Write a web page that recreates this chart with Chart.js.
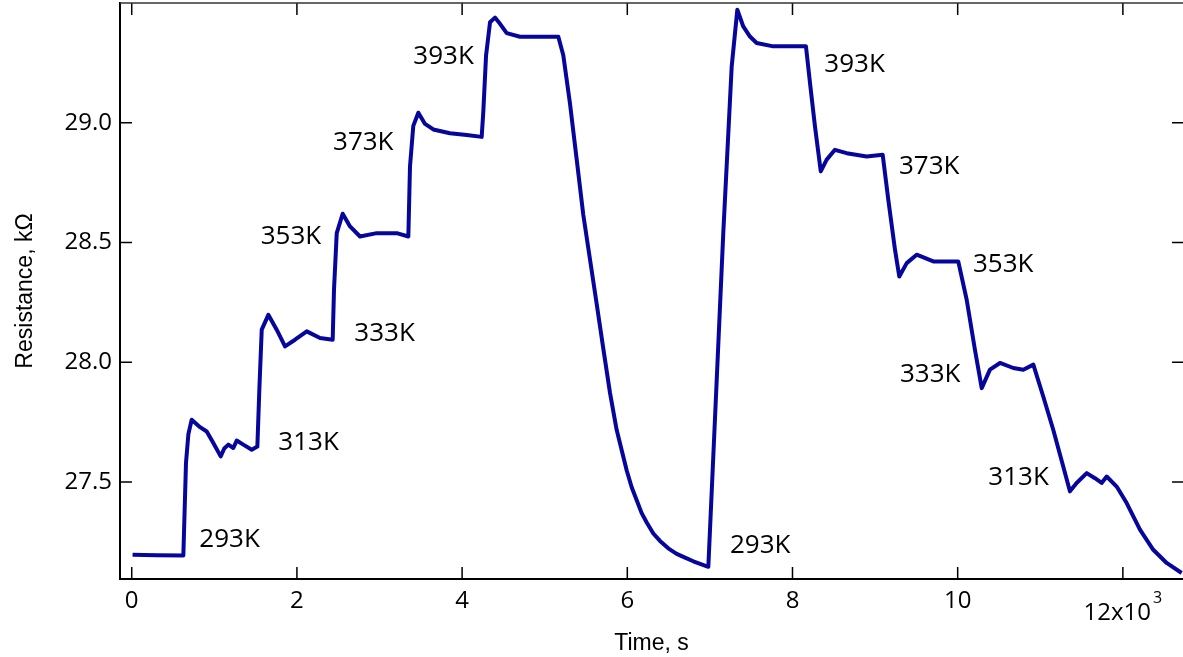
<!DOCTYPE html>
<html>
<head>
<meta charset="utf-8">
<title>Resistance vs time</title>
<script src="https://cdn.jsdelivr.net/npm/chart.js@4.4.1/dist/chart.umd.min.js"></script>
<style>
  html, body { margin: 0; padding: 0; background: #fff; }
  #wrap { width: 1183px; height: 657px; }
</style>
</head>
<body>
<div id="wrap"><canvas id="resistance-graph" width="1183" height="657"></canvas></div>
<script>
// trace: time in s, resistance in kOhm
const timeS = [
    10, 300, 625, 657, 686, 726, 827, 908, 988, 1077, 1120, 1170, 1230, 1271, 1351, 1453, 1521,
    1545, 1574, 1654, 1755, 1856, 1977, 2119, 2280, 2433,
    2449, 2482, 2554, 2643, 2764, 2966, 3208, 3349,
    3369, 3409, 3470, 3551, 3651, 3853, 4056, 4237,
    4257, 4290, 4338, 4398, 4459, 4540, 4701, 4943, 5165,
    5225, 5306, 5387, 5467, 5548, 5629, 5709, 5790, 5871, 5993, 6053, 6114, 6174, 6235, 6315, 6396, 6496, 6598, 6699, 6799, 6981,
    7061, 7162, 7264, 7332, 7404, 7485, 7566, 7767, 7970, 8163,
    8212, 8272, 8342, 8414, 8514, 8656, 8898, 9092,
    9160, 9241, 9293, 9383, 9503, 9705, 10007,
    10109, 10209, 10291, 10391, 10512, 10673, 10795, 10916,
    11036, 11157, 11278, 11359, 11440, 11562, 11662, 11743, 11804, 11925, 12046, 12207, 12368, 12530, 12712
];
const resistanceK = [
    27.196, 27.194, 27.193, 27.58, 27.70, 27.76, 27.729, 27.711, 27.663, 27.607, 27.64, 27.656, 27.642, 27.673, 27.656, 27.635, 27.648,
    27.885, 28.136, 28.198, 28.136, 28.066, 28.094, 28.129, 28.101, 28.094,
    28.303, 28.539, 28.620, 28.567, 28.525, 28.539, 28.539, 28.525,
    28.817, 28.987, 29.042, 28.995, 28.972, 28.956, 28.949, 28.941,
    29.049, 29.281, 29.420, 29.439, 29.413, 29.374, 29.359, 29.359, 29.359,
    29.282, 29.080, 28.848, 28.616, 28.430, 28.244, 28.058, 27.873, 27.718, 27.548, 27.478, 27.424, 27.370, 27.331, 27.285, 27.254, 27.223, 27.200, 27.184, 27.169, 27.146,
    27.760, 28.539, 29.235, 29.472, 29.402, 29.360, 29.333, 29.319, 29.319, 29.319,
    29.166, 28.985, 28.797, 28.846, 28.887, 28.873, 28.859, 28.866,
    28.678, 28.470, 28.358, 28.414, 28.449, 28.421, 28.421,
    28.261, 28.052, 27.892, 27.969, 27.997, 27.976, 27.969, 27.990,
    27.857, 27.718, 27.565, 27.461, 27.496, 27.537, 27.516, 27.496, 27.523, 27.481, 27.412, 27.301, 27.217, 27.162, 27.120
];

const xTicks = [0, 2000, 4000, 6000, 8000, 10000, 12000];
const xTickLabels = ['0', '2', '4', '6', '8', '10', '12x10^3'];
const yTicks = [27.5, 28.0, 28.5, 29.0];
const yTickLabels = ['27.5', '28.0', '28.5', '29.0'];

// temperature notes, anchored at (time, resistance) of their left edge
const tempLabels = ['293K', '313K', '333K', '353K', '373K', '393K', '293K', '393K', '373K', '353K', '333K', '313K'];
const tempLabelTime = [818, 1775, 2695, 1562, 2437, 3409, 7243, 8385, 9289, 10185, 9301, 10371];
const tempLabelRes = [27.261, 27.663, 28.118, 28.524, 28.916, 29.278, 27.234, 29.244, 28.819, 28.407, 27.948, 27.520];

document.addEventListener('DOMContentLoaded', function () {

    const ctx = document.getElementById('resistance-graph');

    // ticks point into the plot on all four sides
    const innerTicks = {
        id: 'innerTicks',
        afterDraw(chart) {
            const { ctx, chartArea: a, scales: { x, y } } = chart;
            ctx.save();
            ctx.strokeStyle = '#000';
            ctx.lineWidth = 1.5;
            ctx.beginPath();
            xTicks.forEach((v) => {
                const px = x.getPixelForValue(v);
                ctx.moveTo(px, a.bottom);
                ctx.lineTo(px, a.bottom - 12);
                ctx.moveTo(px, a.top);
                ctx.lineTo(px, a.top + 12);
            });
            yTicks.forEach((v) => {
                const py = y.getPixelForValue(v);
                ctx.moveTo(a.left, py);
                ctx.lineTo(a.left + 12, py);
                ctx.moveTo(a.right, py);
                ctx.lineTo(a.right - 11, py);
            });
            ctx.stroke();

            ctx.strokeStyle = '#333';
            ctx.beginPath();
            ctx.moveTo(a.left, a.top);
            ctx.lineTo(a.right, a.top);
            ctx.stroke();

            // last x label carries the exponent
            xTickLabels.forEach((lab, i) => {
                if (lab.indexOf('^') < 0) return;
                const parts = lab.split('^');
                const px = x.getPixelForValue(xTicks[i]);
                ctx.fillStyle = '#000';
                ctx.textBaseline = 'middle';
                ctx.textAlign = 'left';
                ctx.font = '24px "Open Sans"';
                const w1 = ctx.measureText(parts[0]).width;
                ctx.font = '16px "Open Sans"';
                const w2 = ctx.measureText(parts[1]).width;
                const start = px - (w1 + w2 + 2) / 2;
                ctx.font = '24px "Open Sans"';
                ctx.fillText(parts[0], start, a.bottom + 34);
                ctx.font = '16px "Open Sans"';
                ctx.fillText(parts[1], start + w1 + 2, a.bottom + 19);
            });
            ctx.restore();
        }
    };

    const tempNotes = {
        id: 'tempNotes',
        afterDatasetsDraw(chart) {
            const { ctx, scales: { x, y } } = chart;
            ctx.save();
            ctx.fillStyle = '#000';
            ctx.font = '26px "Open Sans"';
            ctx.textAlign = 'left';
            ctx.textBaseline = 'middle';
            tempLabels.forEach((txt, i) => {
                ctx.fillText(txt, x.getPixelForValue(tempLabelTime[i]), y.getPixelForValue(tempLabelRes[i]));
            });
            ctx.restore();
        }
    };

    new Chart(ctx, {
        type: 'line',
        data: {
            datasets: [{
                label: 'Resistance',
                data: timeS.map((t, i) => ({ x: t, y: resistanceK[i] })),
                borderColor: '#06069c',
                borderWidth: 4,
                borderJoinStyle: 'round',
                pointRadius: 0,
                tension: 0,
                fill: false
            }]
        },
        options: {
            responsive: false,
            animation: false,
            devicePixelRatio: 1,
            layout: { padding: { top: 3, right: 0, bottom: 0, left: 0 } },
            plugins: {
                legend: { display: false },
                tooltip: { enabled: false }
            },
            scales: {
                x: {
                    type: 'linear',
                    min: -142,
                    max: 12728,
                    afterBuildTicks: (s) => { s.ticks = xTicks.map(v => ({ value: v })); },
                    afterFit: (s) => {
                        s.height = 78;
                        s.paddingLeft = 0;
                        s.paddingRight = 0;
                    },
                    grid: { drawOnChartArea: false, drawTicks: false },
                    border: { color: '#000', width: 2 },
                    ticks: {
                        padding: 8,
                        color: '#000',
                        autoSkip: false,
                        maxRotation: 0,
                        font: { family: '"Open Sans"', size: 24 },
                        callback: (v) => {
                            const lab = xTickLabels[xTicks.indexOf(v)];
                            return (lab && lab.indexOf('^') < 0) ? lab : '';
                        }
                    },
                    title: {
                        display: true,
                        text: 'Time, s',
                        color: '#000',
                        font: { family: '"Liberation Sans"', size: 23 },
                        padding: { top: 0, bottom: 0 }
                    }
                },
                y: {
                    min: 27.095,
                    max: 29.5,
                    afterBuildTicks: (s) => { s.ticks = yTicks.map(v => ({ value: v })); },
                    afterFit: (s) => {
                        s.width = 120;
                        s.paddingTop = 0;
                        s.paddingBottom = 0;
                    },
                    grid: { drawOnChartArea: false, drawTicks: false },
                    border: { color: '#000', width: 2 },
                    ticks: {
                        padding: 8,
                        color: '#000',
                        font: { family: '"Open Sans"', size: 24 },
                        callback: (v) => yTickLabels[yTicks.indexOf(v)]
                    },
                    title: {
                        display: true,
                        text: 'Resistance, kΩ',
                        color: '#000',
                        font: { family: '"Liberation Sans"', size: 23 },
                        padding: { top: 12, bottom: 0 }
                    }
                }
            }
        },
        plugins: [innerTicks, tempNotes]
    });
});
</script>
</body>
</html>
